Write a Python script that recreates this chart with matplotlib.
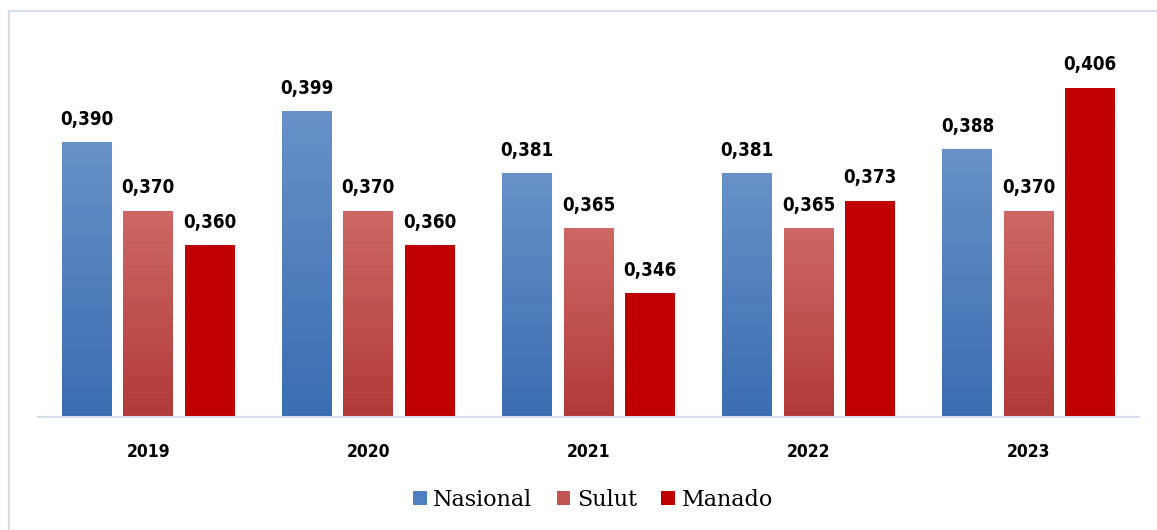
import matplotlib
matplotlib.use("Agg")
import matplotlib.pyplot as plt
import numpy as np
from matplotlib.colors import LinearSegmentedColormap
from matplotlib.patches import Rectangle
from matplotlib.lines import Line2D
from matplotlib import font_manager as fm

years = ["2019", "2020", "2021", "2022", "2023"]
series_names = ["Nasional", "Sulut", "Manado"]
nasional = [0.390, 0.399, 0.381, 0.381, 0.388]
sulut = [0.370, 0.370, 0.365, 0.365, 0.370]
manado = [0.360, 0.360, 0.346, 0.373, 0.406]

# find a condensed font if available
cond_path = None
for f in fm.fontManager.ttflist:
    if "Condensed" in f.fname and "DejaVuSans" in f.fname.replace(" ", "") and "Bold" in f.fname and "Oblique" not in f.fname:
        cond_path = f.fname
        break
if cond_path:
    label_prop = fm.FontProperties(fname=cond_path, size=13.5)
    year_prop = fm.FontProperties(fname=cond_path, size=12.5)
else:
    label_prop = fm.FontProperties(family="DejaVu Sans", weight="bold", size=12)
    year_prop = fm.FontProperties(family="DejaVu Sans", weight="bold", size=11)

W, H = 1157, 530
fig = plt.figure(figsize=(W / 100, H / 100), dpi=100)
ax = fig.add_axes([38 / W, 1 - 417 / H, (1139 - 38) / W, (417 - 30) / H])

ymin = 0.31
ymax = ymin + 387 / 3427

grad_top = {"Nasional": "#6891c8", "Sulut": "#cd6865", "Manado": "#c00000"}
grad_bot = {"Nasional": "#3a6db2", "Sulut": "#b13a38", "Manado": "#c00000"}

width = 0.227
step = 0.279
x = np.arange(len(years))

for i, (name, vals) in enumerate(zip(series_names, [nasional, sulut, manado])):
    offs = (i - 1) * step
    bars = ax.bar(x + offs, [v - ymin for v in vals], width, bottom=ymin,
                  color="none", edgecolor="none", zorder=2)
    cmap = LinearSegmentedColormap.from_list(name, [grad_bot[name], grad_top[name]])
    grad = np.linspace(0, 1, 256).reshape(-1, 1)
    for b, v in zip(bars, vals):
        x0 = b.get_x()
        ax.imshow(grad, cmap=cmap, origin="lower", aspect="auto",
                  extent=(x0, x0 + b.get_width(), ymin, v), zorder=2,
                  interpolation="bilinear")
        ax.annotate(f"{v:.3f}".replace(".", ","), (x0 + b.get_width() / 2, v),
                    xytext=(0, 10), textcoords="offset points", ha="center",
                    va="bottom", fontproperties=label_prop, color="black")

ax.set_xlim(-0.5, len(years) - 0.5)
ax.set_ylim(ymin, ymax)

for s in ["top", "right", "left"]:
    ax.spines[s].set_visible(False)
ax.spines["bottom"].set_color("#d6dfee")
ax.spines["bottom"].set_linewidth(1.5)
ax.set_yticks([])
ax.set_xticks(x)
ax.set_xticklabels(years)
for t in ax.get_xticklabels():
    t.set_fontproperties(year_prop)
ax.tick_params(axis="x", length=0, pad=19)

# legend
handles = [Rectangle((0, 0), 1, 1, facecolor=c, edgecolor="none")
           for c in ["#4f7fc0", "#c25452", "#c00000"]]
fig.legend(handles, series_names, loc="center", bbox_to_anchor=(593 / W, 1 - 500 / H),
           ncol=3, frameon=False, prop={"family": "DejaVu Serif", "size": 16},
           handlelength=0.6, handleheight=0.6, handletextpad=0.3, columnspacing=1.1)

# frame border
fig.add_artist(Line2D([9 / W, 1], [1 - 11 / H, 1 - 11 / H], color="#d6dfee", lw=1.5))
fig.add_artist(Line2D([9 / W, 9 / W], [0, 1 - 11 / H], color="#d6dfee", lw=1.5))

fig.savefig("out.png", dpi=100)
